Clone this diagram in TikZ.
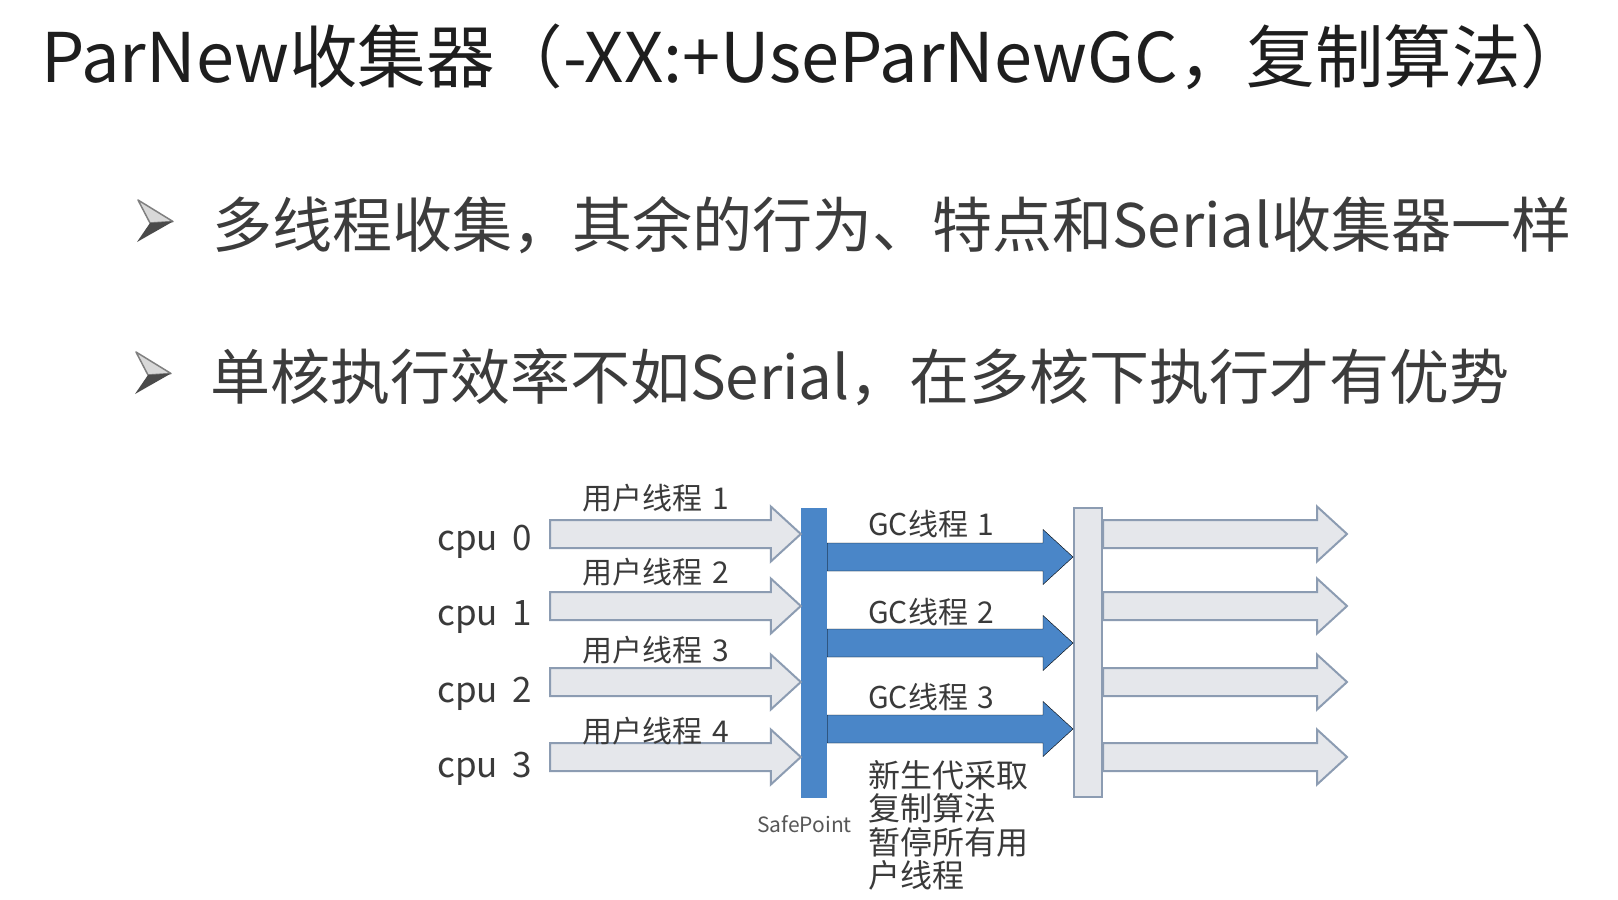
\documentclass[tikz,border=0pt]{standalone}
\usepackage{fontspec}
\setmainfont{Noto Sans CJK SC}
\usetikzlibrary{calc}
\definecolor{titlec}{HTML}{1E1E1E}
\definecolor{bodyc}{HTML}{3C3C3C}
\definecolor{diagc}{HTML}{3A3A3A}
\definecolor{spblue}{HTML}{4A86C8}
\definecolor{garrfill}{HTML}{E5E7EB}
\definecolor{garrline}{HTML}{8C9CB2}
\definecolor{bulletdark}{HTML}{4A4A4A}
\definecolor{bulletlight}{HTML}{D8D8D8}
\newcommand{\fsz}[2]{\fontsize{#1}{#2}\selectfont}
\newcommand{\barrow}[3]{%
  \draw[#1] ($(#2)+(0,-14)$) -- ($(#3)+(-30,-14)$) -- ($(#3)+(-30,-27.5)$) -- (#3)
    -- ($(#3)+(-30,27.5)$) -- ($(#3)+(-30,14)$) -- ($(#2)+(0,14)$) -- cycle;}
\newcommand{\bulletmark}[2]{%
  \begin{scope}[shift={(#1,#2)}]
    \draw[line width=1.5pt, draw=bulletdark!70, fill=bulletlight, line join=round] (138,200) -- (173,221.5) -- (150,223) -- cycle;
    \fill[bulletdark] (150,223) -- (173,221.5) -- (137,242) -- cycle;
  \end{scope}}
\begin{document}
\begin{tikzpicture}[x=1pt,y=-1pt,
  titletext/.style={anchor=base west, inner sep=0pt, text=titlec, font=\fsz{68.5}{80}},
  bodytext/.style={anchor=base west, inner sep=0pt, text=bodyc, font=\fsz{60}{72}},
  cpulbl/.style={anchor=base west, inner sep=0pt, text=diagc, font=\fsz{35}{40}},
  lbl/.style={anchor=base west, inner sep=0pt, text=diagc, font=\fsz{30}{36}},
  smalllbl/.style={anchor=base west, inner sep=0pt, text=diagc!85, font=\fsz{21}{24}},
  notetext/.style={anchor=north west, inner sep=0pt, align=left, text=diagc, font=\fsz{32}{33.5}},
  bluebar/.style={rectangle, inner sep=0pt, fill=spblue, minimum width=26pt, minimum height=290pt},
  greybar/.style={rectangle, inner sep=0pt, fill=garrfill, draw=garrline, line width=2pt, minimum width=28pt, minimum height=289pt},
  userarr/.style={fill=garrfill, draw=garrline, line width=2pt, line join=miter},
  gcarr/.style={fill=spblue}]
\useasboundingbox[fill=white] (0,0) rectangle (1618,900);

% title and bullets
\node[titletext] (title) at (41,82) {ParNew收集器（-XX:+UseParNewGC，复制算法）};
\bulletmark{0}{0}
\node[bodytext] (b1) at (212,247) {多线程收集，其余的行为、特点和Serial收集器一样};
\bulletmark{-2}{152}
\node[bodytext] (b2) at (210,399) {单核执行效率不如Serial，在多核下执行才有优势};

% bars
\node[bluebar] (sp) at (814,653) {};
\node[greybar] (gb) at (1088,652.5) {};
\node[smalllbl] (spl) at (757,832) {SafePoint};

% user threads and output arrows
\foreach \i/\n/\c/\lb/\cb in {0/1/534/509/550, 1/2/606/583/625, 2/3/682/661/702, 3/4/757/742/777} {
  \node[cpulbl] (cpu\i) at (437,\cb) {cpu\hspace{0.42em}\i};
  \coordinate (us\i) at (550,\c);
  \coordinate (ue\i) at (sp.west |- us\i);
  \barrow{userarr}{us\i}{ue\i}
  \node[lbl] (ul\i) at (582,\lb) {用户线程\hspace{0.35em}\n};
  \coordinate (rs\i) at (gb.east |- us\i);
  \coordinate (re\i) at (1347,\c);
  \barrow{userarr}{rs\i}{re\i}
}

% GC threads
\foreach \i/\c/\lb in {1/557/535, 2/643/623, 3/729/708} {
  \coordinate (gy\i) at (900,\c);
  \coordinate (gs\i) at (sp.east |- gy\i);
  \coordinate (ge\i) at (gb.west |- gy\i);
  \barrow{gcarr}{gs\i}{ge\i}
  \node[lbl] (gl\i) at (868,\lb) {GC线程\hspace{0.3em}\i};
}

\node[notetext] (note) at (868,760) {新生代采取\\复制算法\\暂停所有用\\户线程};
\end{tikzpicture}
\end{document}
